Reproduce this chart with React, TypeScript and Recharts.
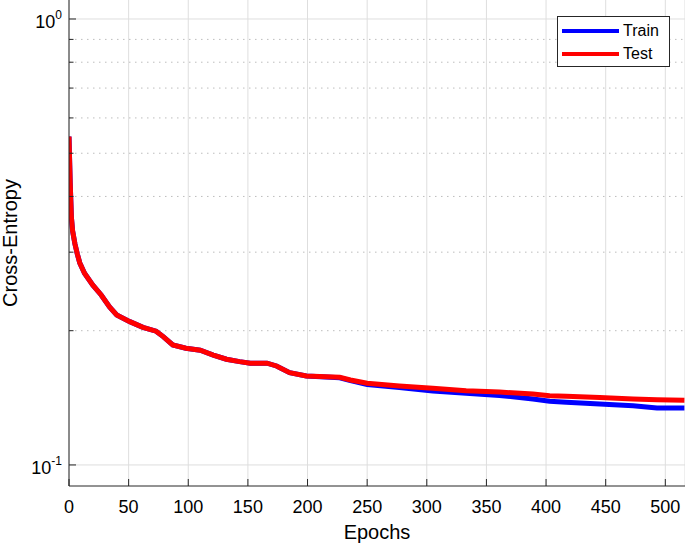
import {
  LineChart,
  Line,
  XAxis,
  YAxis,
  CartesianGrid,
  ReferenceLine,
  Legend,
} from "recharts";

// values (log y axis)
const epochs = [
  0, 1, 2, 3, 5, 7, 9, 13, 20, 27, 34, 40, 51, 62, 73, 79, 87, 98, 110, 121,
  132, 143, 152, 166, 174, 185, 199, 227, 236, 250, 277, 305, 333, 361, 389,
  403, 417, 445, 473, 493, 516,
];
const trainLoss = [
  0.545, 0.43, 0.36, 0.335, 0.313, 0.297, 0.284, 0.269, 0.253, 0.2405, 0.226,
  0.217, 0.2096, 0.2035, 0.1995, 0.194, 0.1858, 0.1827, 0.1808, 0.1764, 0.1726,
  0.1705, 0.1691, 0.1691, 0.1667, 0.161, 0.1583, 0.1568, 0.1545, 0.1515,
  0.1492, 0.1465, 0.1448, 0.1432, 0.1405, 0.139, 0.1382, 0.137, 0.1358, 0.1342,
  0.1342,
];
const testLoss = [
  0.545, 0.43, 0.36, 0.335, 0.313, 0.297, 0.284, 0.269, 0.253, 0.2405, 0.226,
  0.217, 0.2096, 0.2035, 0.1995, 0.194, 0.1858, 0.1827, 0.1808, 0.1764, 0.1726,
  0.1705, 0.1691, 0.1691, 0.1667, 0.161, 0.1583, 0.1572, 0.1551, 0.1525,
  0.1504, 0.1486, 0.1467, 0.1457, 0.1443, 0.143, 0.1425, 0.1416, 0.1406, 0.14,
  0.1397,
];
const seriesNames = ["Train", "Test"];
const xTicks = [0, 50, 100, 150, 200, 250, 300, 350, 400, 450, 500];
const majorY = [0.1, 1];
const minorY = [0.2, 0.3, 0.4, 0.5, 0.6, 0.7, 0.8, 0.9];
const yTicks = [...majorY, ...minorY].sort((a, b) => a - b);

const rows = epochs.map((e, i) => ({
  epoch: e,
  train: trainLoss[i],
  test: testLoss[i],
}));

const AXIS = "#262626";
const GRID = "#dedede";
const FONT = "'Liberation Sans', Arial, Helvetica, sans-serif";

function YTick(props: any) {
  const { x, y, payload } = props;
  const v = payload.value;
  const major = majorY.some((m) => Math.abs(m - v) < 1e-9);
  const exp = Math.round(Math.log10(v));
  return (
    <g>
      <line x1={x} x2={x + (major ? 7 : 4.5)} y1={y} y2={y} stroke={AXIS} />
      {major && (
        <text
          x={x - 7}
          y={y + 9}
          textAnchor="end"
          fontSize={18}
          fill="#000"
          fontFamily={FONT}
        >
          10
          <tspan dy={-9} fontSize={12}>
            {String(exp)}
          </tspan>
        </text>
      )}
    </g>
  );
}

function XTick(props: any) {
  const { x, y, payload } = props;
  return (
    <g>
      <line x1={x} x2={x} y1={y} y2={y - 7} stroke={AXIS} />
      <text
        x={x}
        y={y + 27}
        textAnchor="middle"
        fontSize={18}
        fill="#000"
        fontFamily={FONT}
      >
        {payload.value}
      </text>
    </g>
  );
}

function YLabel(props: any) {
  const vb = props.viewBox;
  const cx = vb.x + 16.5;
  const cy = vb.y + vb.height / 2;
  return (
    <text
      x={cx}
      y={cy}
      textAnchor="middle"
      fontSize={20}
      fill="#000"
      fontFamily={FONT}
      transform={`rotate(-90, ${cx}, ${cy})`}
    >
      Cross-Entropy
    </text>
  );
}

function LegendBox(props: any) {
  const items = [...(props.payload || [])].sort(
    (a: any, b: any) =>
      seriesNames.indexOf(a.value) - seriesNames.indexOf(b.value)
  );
  return (
    <div
      style={{
        position: "relative",
        width: 111,
        height: 49,
        border: `1px solid ${AXIS}`,
        background: "#fff",
        fontFamily: FONT,
        fontSize: 16,
      }}
    >
      {items.map((it: any, i: number) => (
        <div
          key={it.value}
          style={{
            position: "absolute",
            left: 4,
            top: 4 + i * 22.7,
            height: 20,
            display: "flex",
            alignItems: "center",
          }}
        >
          <span
            style={{
              display: "inline-block",
              width: 57,
              height: 4,
              background: it.color,
            }}
          />
          <span style={{ marginLeft: 4, color: "#000" }}>{it.value}</span>
        </div>
      ))}
    </div>
  );
}

export default function App() {
  return (
    <div style={{ position: "absolute", left: 0, top: 0 }}>
      <LineChart
        width={685}
        height={545}
        data={rows}
        margin={{ top: 0, right: 0, bottom: 0, left: 0 }}
      >
        <CartesianGrid vertical horizontal={false} stroke={GRID} />
        {majorY.map((v) => (
          <ReferenceLine key={"M" + v} y={v} stroke={GRID} />
        ))}
        {minorY.map((v) => (
          <ReferenceLine
            key={"m" + v}
            y={v}
            stroke="#bdbdbd"
            strokeDasharray="1.5 4.5"
          />
        ))}
        <XAxis
          dataKey="epoch"
          type="number"
          domain={[0, 516.5]}
          allowDataOverflow
          ticks={xTicks}
          interval={0}
          height={59}
          tickSize={0}
          tickMargin={0}
          tickLine={false}
          stroke={AXIS}
          tick={<XTick />}
          label={{
            value: "Epochs",
            position: "insideBottom",
            offset: 6,
            fontSize: 20,
            fill: "#000",
            fontFamily: FONT,
          }}
        />
        <YAxis
          type="number"
          scale="log"
          domain={[0.0897, 1.103]}
          allowDataOverflow
          ticks={yTicks}
          interval={0}
          width={69}
          tickSize={0}
          tickMargin={0}
          tickLine={false}
          stroke={AXIS}
          tick={<YTick />}
          label={{ content: <YLabel /> }}
        />
        <Legend
          layout="horizontal"
          verticalAlign="middle"
          align="center"
          content={<LegendBox />}
          wrapperStyle={{ left: 557, top: 16, width: 113, height: 51 }}
        />
        <Line
          name="Train"
          dataKey="train"
          stroke="#0000ff"
          strokeWidth={5}
          dot={false}
          type="linear"
          isAnimationActive={false}
        />
        <Line
          name="Test"
          dataKey="test"
          stroke="#ff0000"
          strokeWidth={5}
          dot={false}
          type="linear"
          isAnimationActive={false}
        />
      </LineChart>
    </div>
  );
}
